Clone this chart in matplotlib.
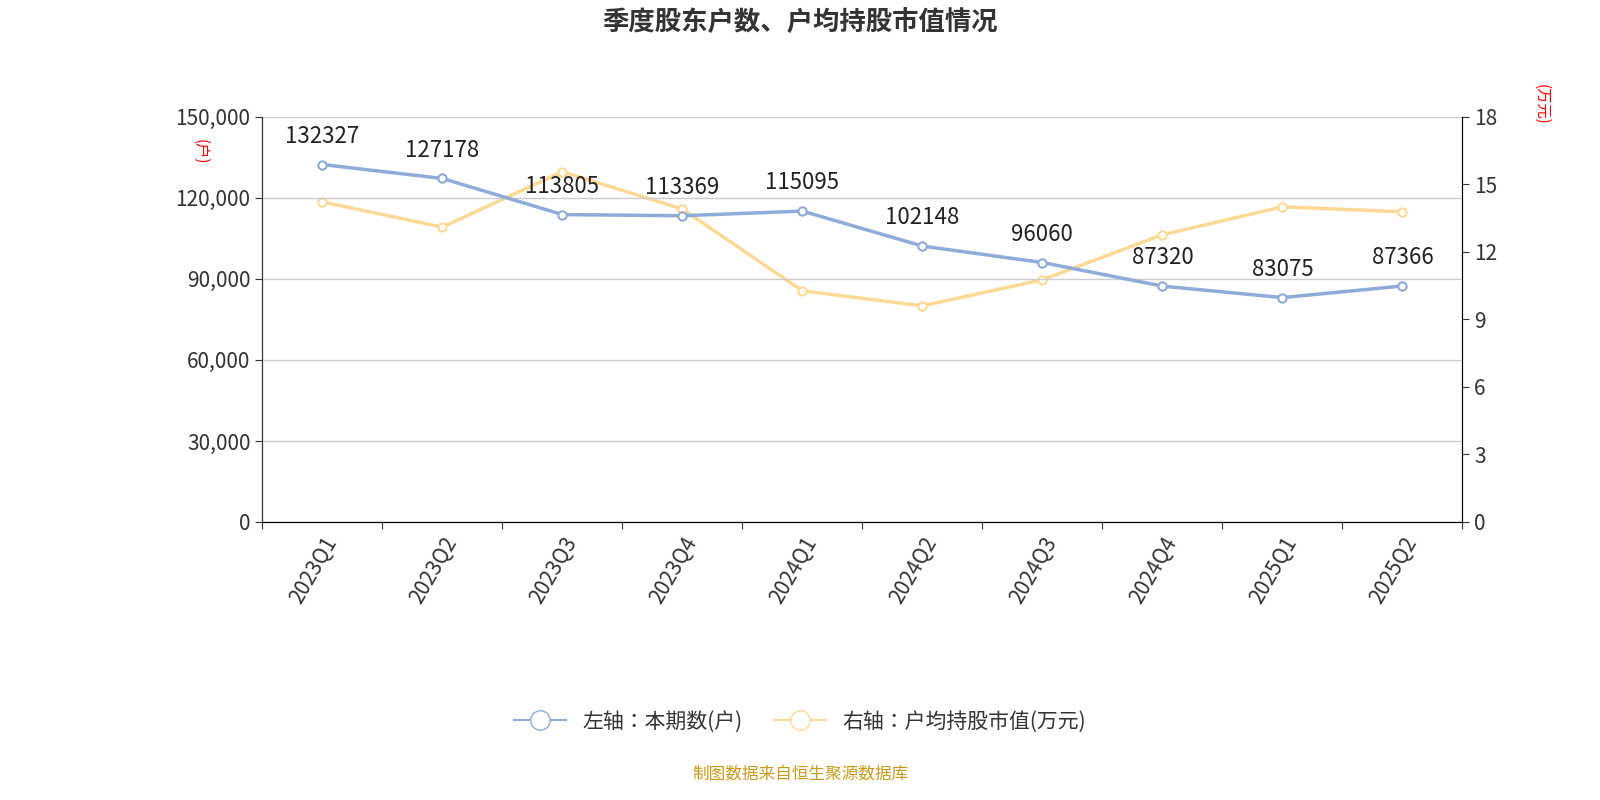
import matplotlib
matplotlib.use("Agg")
import matplotlib.pyplot as plt
from matplotlib.lines import Line2D
from matplotlib import font_manager as fm

cjk = None
for f in fm.findSystemFonts():
    if 'NotoSansCJK' in f.replace(' ', '') or 'NotoSansSC' in f:
        try:
            fm.fontManager.addfont(f)
        except Exception:
            pass
names = [f.name for f in fm.fontManager.ttflist if 'CJK' in f.name]
cjk = 'Noto Sans CJK SC' if 'Noto Sans CJK SC' in names else (names[0] if names else 'DejaVu Sans')
plt.rcParams['font.family'] = 'sans-serif'
plt.rcParams['font.sans-serif'] = [cjk, 'DejaVu Sans']

quarters = ["2023Q1","2023Q2","2023Q3","2023Q4","2024Q1","2024Q2","2024Q3","2024Q4","2025Q1","2025Q2"]
holders = [132327,127178,113805,113369,115095,102148,96060,87320,83075,87366]
avg_value = [14.22,13.1,15.56,13.9,10.27,9.6,10.76,12.76,14.0,13.78]

blue = "#8eacd9"
yellow = "#fdd995"

fig = plt.figure(figsize=(16,8), dpi=100)
ax = fig.add_axes([0.164,0.3475,0.75,0.5065])
ax2 = ax.twinx()
x = list(range(len(quarters)))
ax.set_xlim(-0.5, len(quarters)-0.5)
ax.set_ylim(0,150000)
ax2.set_ylim(0,18)
ax.set_yticks([0,30000,60000,90000,120000,150000])
ax.set_yticklabels([f"{v:,}" for v in [0,30000,60000,90000,120000,150000]])
ax2.set_yticks([0,3,6,9,12,15,18])
ax.grid(axis='y', color='#cccccc', lw=1)
ax.set_axisbelow(True)
for a in (ax, ax2):
    a.spines['top'].set_visible(False)
    a.tick_params(labelsize=15, colors='#333333', length=5)
ax.spines['left'].set_color('#333333'); ax2.spines['right'].set_color('#333333')
ax.set_xticks([i-0.5 for i in range(len(quarters)+1)], minor=False)
ax.set_xticklabels([])
ax.set_xticks(x, minor=True)
ax.set_xticklabels(quarters, minor=True, rotation=60, ha='right', rotation_mode='anchor', fontsize=15, color='#333333')
ax.tick_params(axis='x', which='minor', length=0, pad=8)

ax2.plot(x, avg_value, color=yellow, lw=2.5, marker='o', ms=6, mfc='white', mec=yellow, mew=1.5, zorder=3)
ax.plot(x, holders, color=blue, lw=2.5, marker='o', ms=6, mfc='white', mec=blue, mew=1.5, zorder=4)
ax.set_zorder(ax2.get_zorder()+1); ax.patch.set_visible(False)
for i, v in enumerate(holders):
    ax.annotate(str(v), (i, v), xytext=(0, 12), textcoords='offset points', ha='center', va='bottom', fontsize=16, color='#222222')

fig.text(0.5, 0.972, "季度股东户数、户均持股市值情况", ha='center', va='center', fontsize=19, fontweight='bold', color='#333333')
fig.text(0.125, 0.81, "(户)", rotation=-90, color='red', fontsize=11, ha='center', va='center')
fig.text(0.963, 0.87, "(万元)", rotation=-90, color='red', fontsize=11, ha='center', va='center')
handles = [Line2D([0],[0], color=blue, lw=1.5, marker='o', ms=14, mfc='white', mec=blue),
           Line2D([0],[0], color=yellow, lw=1.5, marker='o', ms=14, mfc='white', mec=yellow)]
fig.legend(handles, ["左轴：本期数(户)", "右轴：户均持股市值(万元)"], loc='center', bbox_to_anchor=(0.5, 0.098), ncol=2, frameon=False, fontsize=15, handlelength=2.5, columnspacing=1.5, labelcolor='#333333')
fig.text(0.5, 0.033, "制图数据来自恒生聚源数据库", ha='center', va='center', fontsize=12, color='#cc9a1a')
fig.savefig("out.png", dpi=100)
